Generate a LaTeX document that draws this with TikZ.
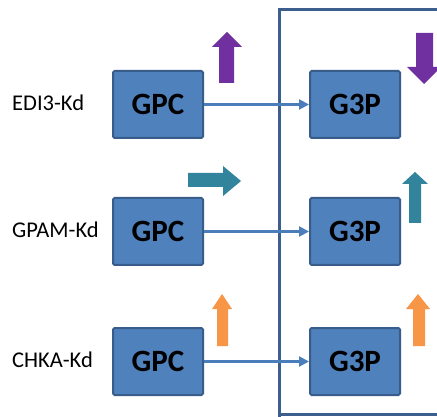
\documentclass[tikz,border=0pt]{standalone}
\usepackage{fontspec}
\setmainfont{Carlito}
\usetikzlibrary{arrows.meta}
\definecolor{boxfill}{HTML}{4F81BD}
\definecolor{boxline}{HTML}{385D8A}
\definecolor{frameblue}{HTML}{3B5E8C}
\definecolor{linkblue}{HTML}{4A7EBB}
\definecolor{cpurple}{HTML}{7030A0}
\definecolor{cteal}{HTML}{31849B}
\definecolor{corange}{HTML}{F79646}
\tikzset{
  mol/.style={draw=boxline, line width=2pt, fill=boxfill, rounded corners=1.5pt,
    minimum width=90pt, minimum height=67pt, inner sep=0pt,
    font=\fontsize{31}{33}\selectfont\bfseries, text=black},
  lbl/.style={anchor=west, inner sep=0pt, font=\fontsize{22.5}{24}\selectfont, text=black},
  link/.style={draw=linkblue, line width=2.2pt, -{Triangle[length=10pt,width=10pt]}},
  frame/.style={draw=frameblue, line width=3pt},
  blk/.style={draw=none}
}
\begin{document}
\begin{tikzpicture}[x=1pt,y=-1pt]
\useasboundingbox (0,0) rectangle (437,417);
\clip (0,0) rectangle (437,417);
\fill[white] (0,0) rectangle (437,417);
% frame
\draw[frame] (279,430) -- (279,10) -- (450,10);
\draw[frame] (279,414) -- (450,414);
% boxes
\node[mol] (gpc1) at (158,104.5) {GPC};
\node[mol] (gpc2) at (158,231.5) {GPC};
\node[mol] (gpc3) at (158,361.5) {GPC};
\node[mol] (g3p1) at (355,104.5) {G3P};
\node[mol] (g3p2) at (355,231.5) {G3P};
\node[mol] (g3p3) at (355,361.5) {G3P};
% labels
\node[lbl] (l1) at (12,103) {EDI3-Kd};
\node[lbl] (l2) at (12,230) {GPAM-Kd};
\node[lbl] (l3) at (12,360) {CHKA-Kd};
% connectors
\draw[link] (gpc1.east) -- (g3p1.west);
\draw[link] (gpc2.east) -- (g3p2.west);
\draw[link] (gpc3.east) -- (g3p3.west);
% block arrows
\fill[cpurple] (227,32) -- (242,47) -- (234,47) -- (234,83) -- (219,83) -- (219,47) -- (212,47) -- cycle;
\fill[cpurple] (424,84) -- (441,67) -- (433,67) -- (433,33) -- (416,33) -- (416,67) -- (407,67) -- cycle;
\fill[cteal] (241,181) -- (223,196) -- (223,187) -- (188,187) -- (188,173) -- (223,173) -- (223,166) -- cycle;
\fill[cteal] (415,172) -- (428,184) -- (421,184) -- (421,223) -- (409,223) -- (409,184) -- (402,184) -- cycle;
\fill[corange] (222,294) -- (232,309) -- (228,309) -- (228,346) -- (217,346) -- (217,309) -- (212,309) -- cycle;
\fill[corange] (418,294) -- (430,309) -- (425,309) -- (425,346) -- (413,346) -- (413,309) -- (406,309) -- cycle;
\end{tikzpicture}
\end{document}
